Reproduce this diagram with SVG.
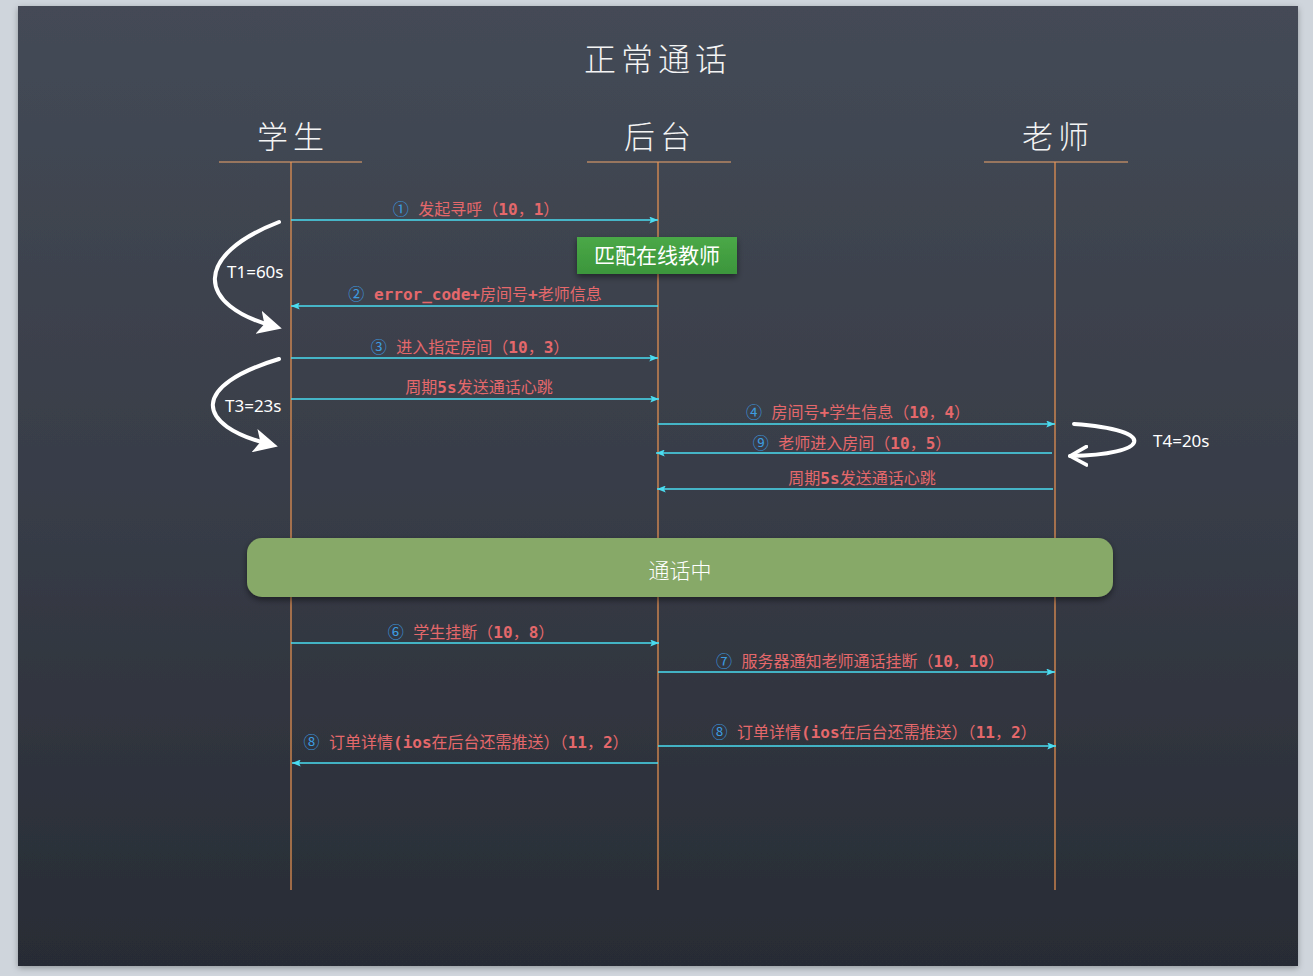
<svg xmlns="http://www.w3.org/2000/svg" width="1313" height="976" viewBox="0 0 1313 976">
<defs>
<linearGradient id="board" x1="0" y1="0" x2="0" y2="1">
<stop offset="0" stop-color="#444a56"/>
<stop offset="0.5" stop-color="#383d48"/>
<stop offset="1" stop-color="#282c35"/>
</linearGradient>
<linearGradient id="gbox" x1="0" y1="0" x2="0" y2="1">
<stop offset="0" stop-color="#4aa847"/>
<stop offset="1" stop-color="#3c963c"/>
</linearGradient>
<filter id="sh" x="-10%" y="-20%" width="120%" height="150%">
<feDropShadow dx="0" dy="3" stdDeviation="3" flood-color="#000" flood-opacity="0.45"/>
</filter>
<filter id="bsh" x="-2%" y="-2%" width="104%" height="104%">
<feDropShadow dx="0" dy="2" stdDeviation="3" flood-color="#000" flood-opacity="0.3"/>
</filter>
<marker id="ah" viewBox="0 0 10 8" refX="10" refY="4" markerWidth="9" markerHeight="7" markerUnits="userSpaceOnUse" orient="auto">
<path d="M0,0 L10,4 L0,8 L2,4 Z" fill="#4adcf0"/>
</marker>
<marker id="wh" viewBox="0 0 12 12" refX="9" refY="6" markerWidth="24" markerHeight="24" markerUnits="userSpaceOnUse" orient="auto">
<path d="M0,0 L12,6 L0,12 L3,6 Z" fill="#ffffff"/>
</marker>
<marker id="wc" viewBox="0 0 12 12" refX="10" refY="6" markerWidth="22" markerHeight="22" markerUnits="userSpaceOnUse" orient="auto">
<path d="M1,1 L10,6 L1,11" fill="none" stroke="#ffffff" stroke-width="2" stroke-linecap="round" stroke-linejoin="round"/>
</marker>
</defs>
<style>
.life{stroke:#ee9552;stroke-width:1.2;fill:none}
.head{stroke:#efa56c;stroke-width:1.2}
.msg{stroke:#4adcf0;stroke-width:1.3;fill:none;marker-end:url(#ah)}
.lbl{font-family:"DejaVu Sans Mono","Noto Sans CJK SC",monospace;font-size:16px;fill:#e5686b;text-anchor:middle}
.b{font-weight:bold}
.n{fill:#3d9ce0;font-family:"Noto Sans CJK SC",sans-serif}
.title{font-family:"Noto Sans CJK SC",sans-serif;font-weight:300;fill:#f4f4f4;text-anchor:middle}
.tl{font-family:"Noto Sans","DejaVu Sans",sans-serif;font-size:17px;fill:#ffffff}
.curve{stroke:#ffffff;stroke-width:4;fill:none;stroke-linecap:round}
</style>
<rect x="0" y="0" width="1313" height="976" fill="#cfd5dc"/>
<rect x="18" y="6" width="1280" height="960" fill="url(#board)" filter="url(#bsh)"/>

<g id="title">
<text class="title" x="658" y="71" font-size="32" letter-spacing="5">正常通话</text>
</g>

<g id="student">
<text class="title" x="293" y="148" font-size="31" letter-spacing="5">学生</text>
<line class="head" x1="219" y1="162" x2="362" y2="162"/>
<line class="life" x1="291" y1="162" x2="291" y2="890"/>
</g>
<g id="backend">
<text class="title" x="660" y="148" font-size="31" letter-spacing="5">后台</text>
<line class="head" x1="587" y1="162" x2="731" y2="162"/>
<line class="life" x1="658" y1="162" x2="658" y2="890"/>
</g>
<g id="teacher">
<text class="title" x="1058" y="148" font-size="31" letter-spacing="5">老师</text>
<line class="head" x1="984" y1="162" x2="1128" y2="162"/>
<line class="life" x1="1055" y1="162" x2="1055" y2="890"/>
</g>

<g id="match">
<rect x="577" y="237" width="160" height="37" fill="url(#gbox)" filter="url(#sh)"/>
<text x="657" y="263" font-family="Noto Sans CJK SC,sans-serif" font-size="21" fill="#ffffff" text-anchor="middle">匹配在线教师</text>
</g>

<g id="incall">
<rect x="247" y="538" width="866" height="59" rx="15" fill="#87a967" filter="url(#sh)"/>
<text x="680" y="578" font-family="Noto Sans CJK SC,sans-serif" font-size="21" font-weight="300" fill="#ffffff" text-anchor="middle">通话中</text>
</g>

<g id="timers">
<path class="curve" d="M279,222 C194,255 194,305 276,327" marker-end="url(#wh)"/>
<text class="tl" x="227" y="278">T1=60s</text>
<path class="curve" d="M279,359 C192,385 192,425 272,445" marker-end="url(#wh)"/>
<text class="tl" x="225" y="412">T3=23s</text>
<path class="curve" d="M1074,424 C1160,430 1150,455 1070,456" marker-end="url(#wc)"/>
<text class="tl" x="1153" y="447">T4=20s</text>
</g>

<g id="connectors">
<line class="msg" x1="291" y1="220" x2="658" y2="220"/>
<line class="msg" x1="658" y1="306" x2="291" y2="306"/>
<line class="msg" x1="291" y1="358" x2="658" y2="358"/>
<line class="msg" x1="291" y1="399" x2="659" y2="399"/>
<line class="msg" x1="658" y1="424" x2="1055" y2="424"/>
<line class="msg" x1="1052" y1="453" x2="656" y2="453"/>
<line class="msg" x1="1053" y1="489" x2="657" y2="489"/>
<line class="msg" x1="291" y1="643" x2="659" y2="643"/>
<line class="msg" x1="658" y1="672" x2="1055" y2="672"/>
<line class="msg" x1="658" y1="746" x2="1056" y2="746"/>
<line class="msg" x1="658" y1="763" x2="292" y2="763"/>
</g>

<g id="labels">
<text class="lbl" x="476" y="215"><tspan class="n">①</tspan> 发起寻呼（<tspan class="b">10</tspan>，<tspan class="b">1</tspan>）</text>
<text class="lbl" x="475" y="300"><tspan class="n">②</tspan> <tspan class="b">error_code+</tspan>房间号<tspan class="b">+</tspan>老师信息</text>
<text class="lbl" x="470" y="353"><tspan class="n">③</tspan> 进入指定房间（<tspan class="b">10</tspan>，<tspan class="b">3</tspan>）</text>
<text class="lbl" x="479" y="393">周期<tspan class="b">5s</tspan>发送通话心跳</text>
<text class="lbl" x="858" y="418"><tspan class="n">④</tspan> 房间号<tspan class="b">+</tspan>学生信息（<tspan class="b">10</tspan>，<tspan class="b">4</tspan>）</text>
<text class="lbl" x="852" y="449"><tspan class="n">⑨</tspan> 老师进入房间（<tspan class="b">10</tspan>，<tspan class="b">5</tspan>）</text>
<text class="lbl" x="862" y="484">周期<tspan class="b">5s</tspan>发送通话心跳</text>
<text class="lbl" x="471" y="638"><tspan class="n">⑥</tspan> 学生挂断（<tspan class="b">10</tspan>，<tspan class="b">8</tspan>）</text>
<text class="lbl" x="860" y="667"><tspan class="n">⑦</tspan> 服务器通知老师通话挂断（<tspan class="b">10</tspan>，<tspan class="b">10</tspan>）</text>
<text class="lbl" x="874" y="738"><tspan class="n">⑧</tspan> 订单详情<tspan class="b">(ios</tspan>在后台还需推送）（<tspan class="b">11</tspan>，<tspan class="b">2</tspan>）</text>
<text class="lbl" x="466" y="748"><tspan class="n">⑧</tspan> 订单详情<tspan class="b">(ios</tspan>在后台还需推送）（<tspan class="b">11</tspan>，<tspan class="b">2</tspan>）</text>
</g>
</svg>
